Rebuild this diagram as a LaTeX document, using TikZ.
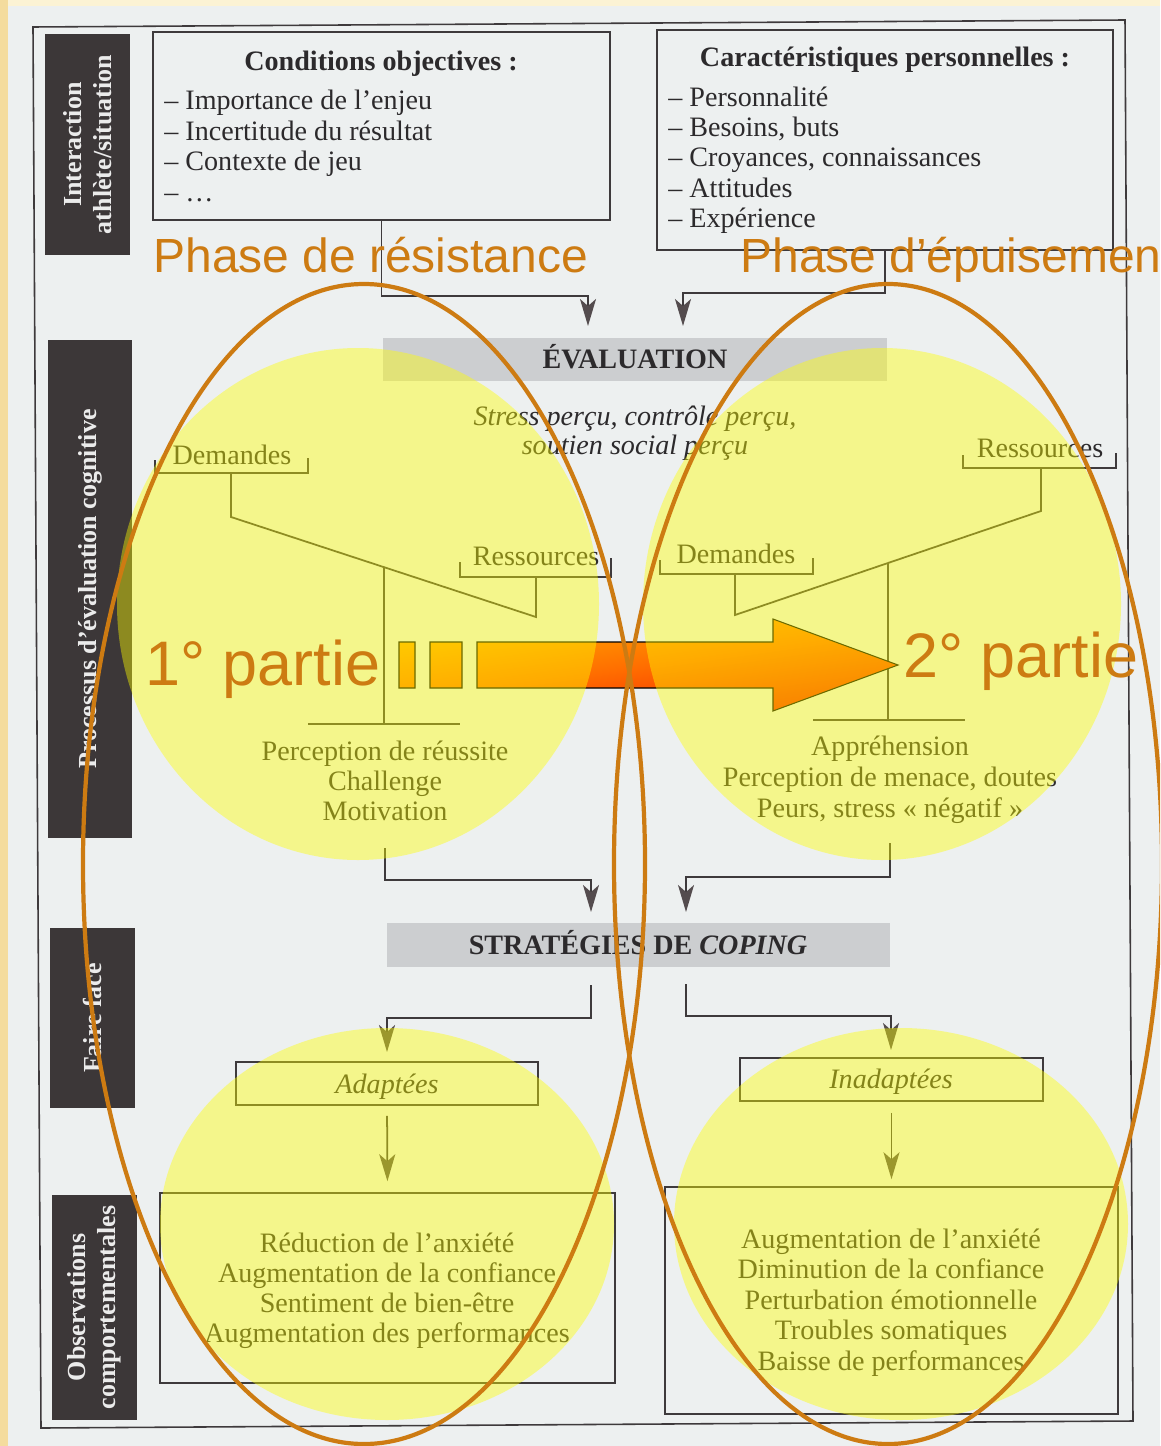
\documentclass[tikz,border=0pt]{standalone}
\usepackage{fontspec}
\setmainfont{Liberation Serif}
\newfontfamily\phasefont{Liberation Sans}
\usetikzlibrary{arrows.meta,fit}

\definecolor{fond}{RGB}{252,243,212}
\definecolor{bande}{RGB}{244,220,158}
\definecolor{papier}{RGB}{237,240,240}
\definecolor{encre}{RGB}{44,42,44}
\definecolor{trait}{RGB}{62,58,60}
\definecolor{pointe}{RGB}{84,76,78}
\definecolor{etiq}{RGB}{60,55,56}
\definecolor{bandeau}{RGB}{204,206,208}
\definecolor{surligne}{RGB}{255,255,0}
\definecolor{ocre}{RGB}{205,123,18}
\definecolor{flecheH}{RGB}{255,175,0}
\definecolor{flecheM}{RGB}{255,110,0}
\definecolor{flecheB}{RGB}{245,35,0}

\tikzset{
  txt/.style={inner sep=0pt, text=encre, font=\fontsize{16}{17.1}\selectfont},
  liste/.style={txt, anchor=base west},
  ligne/.style={txt, anchor=base},
  titre/.style={ligne, font=\fontsize{16}{17.1}\selectfont\bfseries},
  penche/.style={ligne, font=\fontsize{16}{17.1}\selectfont\itshape},
  cadre/.style={draw=trait, line width=0.9pt, inner sep=0pt},
  bloc/.style={fill=etiq, inner sep=0pt},
  etiquette/.style={inner sep=0pt, text=white!92!black, align=center, rotate=90,
    font=\fontsize{14.8}{17.1}\selectfont\bfseries},
  bandeaux/.style={fill=bandeau, inner sep=0pt},
  lien/.style={draw=trait, line width=1pt,
    -{Stealth[length=0.54cm, width=0.32cm, inset=0.14cm, color=pointe]}},
  balance/.style={draw=trait, line width=1pt},
  flou/.style={fill=surligne, fill opacity=0.42},
  phase/.style={draw=ocre, line width=2.4pt},
  grande/.style={inner sep=0pt, text=ocre, anchor=base west,
    font=\phasefont\fontsize{27.3}{30}\selectfont},
  partie/.style={grande, font=\phasefont\fontsize{35.8}{40}\selectfont},
  rayure/.style={draw=black, line width=0.6pt, top color=flecheH,
    bottom color=flecheB, middle color=flecheM, shading angle=8}
}

\begin{document}
\begin{tikzpicture}[x=0.02cm, y=-0.02cm]
  \useasboundingbox (0,0) rectangle (1160,1446);
  \clip (0,0) rectangle (1160,1446);
  \fill[fond] (0,0) rectangle (1160,1446);
  \fill[bande] (0,0) rectangle (8,1446);
  \fill[papier] (8,6) rectangle (1160,1446);

  % cadre general
  \draw[trait, line width=0.9pt] (33,27) -- (1125,20) -- (1133,1421) -- (41,1428) -- cycle;

  % bandes de gauche
  \node[bloc, fit={(45,34) (130,255)}] (blocA) {};
  \node[etiquette] (etiqA) at (blocA.center) {Interaction\\athlète/situation};
  \node[bloc, fit={(48,340) (132,838)}] (blocB) {};
  \node[etiquette] (etiqB) at (blocB.center) {Processus d’évaluation cognitive};
  \node[bloc, fit={(50,928) (135,1108)}] (blocC) {};
  \node[etiquette] (etiqC) at (blocC.center) {Faire face};
  \node[bloc, fit={(52,1195) (137,1420)}] (blocD) {};
  \node[etiquette] (etiqD) at (blocD.center) {Observations\\comportementales};

  % conditions et caracteristiques
  \node[cadre, fit={(153,32) (610,220)}] (cond) {};
  \node[titre] (condT) at (381,71) {Conditions objectives :};
  \foreach \lig [count=\i] in {Importance de l’enjeu, Incertitude du résultat, Contexte de jeu, …}
    \node[liste] (cond\i) at (164,79.5+30.5*\i) {– \lig};

  \node[cadre, fit={(657,30) (1113,250)}] (cara) {};
  \node[titre] (caraT) at (885,67) {Caractéristiques personnelles :};
  \foreach \lig [count=\i] in {Personnalité, {Besoins, buts}, {Croyances, connaissances}, Attitudes, Expérience}
    \node[liste] (cara\i) at (668,76+30.3*\i) {– \lig};

  % evaluation
  \node[bandeaux, fit={(383,338) (887,381)}] (eval) {};
  \node[titre] (evalT) at (635,368) {ÉVALUATION};
  \node[penche] (percu1) at (635,425) {Stress perçu, contrôle perçu,};
  \node[penche] (percu2) at (635,454) {soutien social perçu};

  \coordinate (evalG) at (588,326);
  \coordinate (evalD) at (683,326);
  \draw[lien] (cond.south) -- ++(0,75) -| (evalG);
  \draw[lien] (cara.south) -- ++(0,42) -| (evalD);

  % balance gauche
  \node[ligne] (demG) at (232,464) {Demandes};
  \node[ligne] (resG) at (536,565) {Ressources};
  \draw[balance] (155,460) |- (308,473) -- (308,458);
  \draw[balance] (460,562) |- (611,577) -- (611,558);
  \draw[balance] (231,473) -- (231,517) -- (536,617) -- (536,577);
  \draw[balance] (384,567) -- (384,724);
  \draw[balance] (308,724) -- (460,724);
  \foreach \lig [count=\i] in {Perception de réussite, Challenge, Motivation}
    \node[ligne] (reus\i) at (385,730+30*\i) {\lig};

  % balance droite
  \node[ligne] (resD) at (1040,457) {Ressources};
  \node[ligne] (demD) at (736,563) {Demandes};
  \draw[balance] (963,455) |- (1116,468) -- (1116,453);
  \draw[balance] (660,560) |- (813,574) -- (813,558);
  \draw[balance] (1041,468) -- (1041,511) -- (735,615) -- (735,574);
  \draw[balance] (888,563) -- (888,720);
  \draw[balance] (813,720) -- (965,720);
  \foreach \lig [count=\i] in {Appréhension, {Perception de menace, doutes}, {Peurs, stress «~négatif~»}}
    \node[ligne] (men\i) at (890,724+31*\i) {\lig};

  % strategies de coping
  \node[bandeaux, fit={(387,923) (890,967)}] (strat) {};
  \node[titre] (stratT) at (638,954) {STRATÉGIES DE \textit{COPING}};

  \coordinate (sortieG) at (385,848);
  \coordinate (sortieD) at (890,843);
  \coordinate (stratG) at (591,912);
  \coordinate (stratD) at (686,912);
  \draw[lien] (sortieG) -- ++(0,32) -| (stratG);
  \draw[lien] (sortieD) -- ++(0,34) -| (stratD);

  \coordinate (copingG) at (591,985);
  \coordinate (copingD) at (686,984);
  \coordinate (adapH) at (387,1052);
  \coordinate (inadH) at (891,1050);
  \draw[lien] (copingG) -- ++(0,33) -| (adapH);
  \draw[lien] (copingD) -- ++(0,32) -| (inadH);

  \node[cadre, fit={(236,1062) (538,1105)}] (adap) {};
  \node[penche] (adapT) at (387,1093) {Adaptées};
  \node[cadre, fit={(740,1058) (1043,1101)}] (inad) {};
  \node[penche] (inadT) at (891,1088) {Inadaptées};

  % observations
  \node[cadre, fit={(160,1193) (615,1383)}] (effG) {};
  \node[cadre, fit={(665,1187) (1118,1414)}] (effD) {};
  \draw[lien, shorten <=0.2cm, shorten >=0.22cm] (adap.south) -- (effG.north);
  \draw[lien, shorten <=0.22cm, shorten >=0.14cm] (inad.south) -- (effD.north);
  \foreach \lig [count=\i] in {Réduction de l’anxiété, Augmentation de la confiance, Sentiment de bien-être, Augmentation des performances}
    \node[ligne] (effG\i) at (387,1222+30*\i) {\lig};
  \foreach \lig [count=\i] in {Augmentation de l’anxiété, Diminution de la confiance, Perturbation émotionnelle, Troubles somatiques, Baisse de performances}
    \node[ligne] (effD\i) at (891,1217.5+30.5*\i) {\lig};

  % fleche rayee
  \draw[rayure] (399,642) rectangle (415,688) (430,642) rectangle (462,688)
    (477,642) -- (773,642) -- (773,619) -- (898,665) -- (773,711) -- (773,688) -- (477,688) -- cycle;

  % surlignage
  \fill[flou] (358,604) ellipse [x radius=241, y radius=256];
  \fill[flou] (882,604) ellipse [x radius=239, y radius=256];
  \fill[flou] (387,1224) ellipse [x radius=227, y radius=196];
  \fill[flou] (901,1224) ellipse [x radius=227, y radius=196];

  % phases
  \draw[phase] (364,864) ellipse [x radius=281, y radius=580];
  \draw[phase] (888,864) ellipse [x radius=274, y radius=580];
  \node[grande] (phaseA) at (153,272) {Phase de résistance};
  \node[grande] (phaseB) at (740,272) {Phase d’épuisement};
  \node[partie] (partie1) at (145,685) {1° partie};
  \node[partie] (partie2) at (903,677) {2° partie};
\end{tikzpicture}
\end{document}
